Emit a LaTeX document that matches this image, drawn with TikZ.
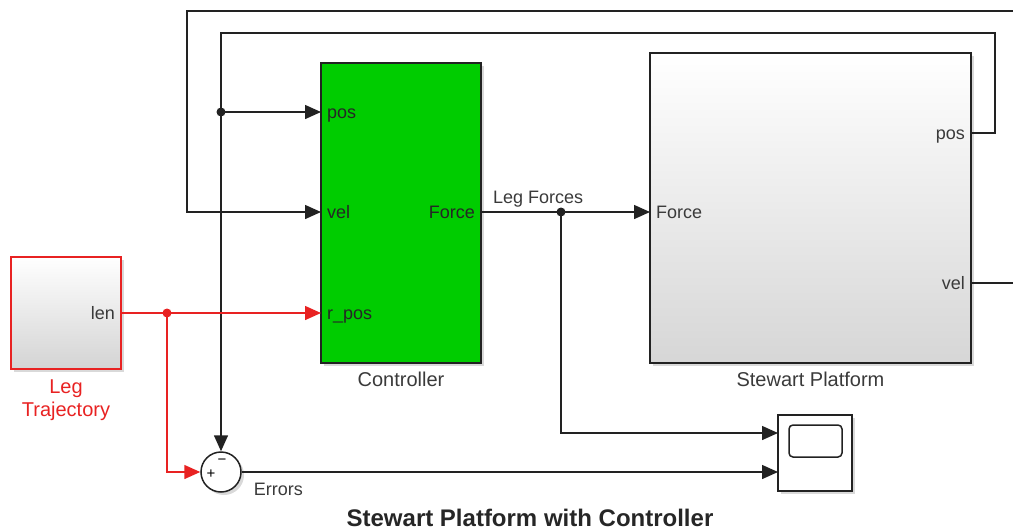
\documentclass[tikz,border=0pt]{standalone}
\usepackage{fontspec}
\setmainfont{Liberation Sans}
\usetikzlibrary{arrows.meta, positioning, shadows}
\definecolor{slgreen}{HTML}{00CC00}
\definecolor{slred}{HTML}{E82222}
\definecolor{slwire}{HTML}{222222}
\definecolor{sltext}{HTML}{3A3A3A}

\begin{document}
\begin{tikzpicture}[x=1pt, y=-1pt,
    block/.style={draw=slwire, line width=1.5pt, inner sep=0pt, drop shadow={shadow xshift=3pt, shadow yshift=-3pt, opacity=0.3}},
    wire/.style={line width=1.5pt, slwire},
    sig/.style={wire, -{Triangle[length=16pt, width=14pt]}},
    port/.style={font=\fontsize{18}{20}\selectfont, text=sltext, inner sep=0pt},
    blkname/.style={port, font=\fontsize{20}{23}\selectfont, anchor=base},
    sign/.style={font=\fontsize{15}{15}\selectfont, text=black, inner sep=0pt}]
    \useasboundingbox (0,0) rectangle (1013,531);
    \clip (0,0) rectangle (1013,531);

    % Blocks
    \node[block, draw=slred, top color=white, bottom color=black!17, minimum width=110pt, minimum height=112pt] (traj) at (66,313) {};
    \node[block, fill=slgreen, minimum width=160pt, minimum height=300pt] (ctrl) at (401,213) {};
    \node[block, top color=white, middle color=black!3, bottom color=black!16, minimum width=321pt, minimum height=310pt] (plant) at (810.5,208) {};
    \node[block, circle, fill=white, minimum size=40pt] (sum) at (221,472) {};
    \node[block, fill=white, minimum width=74pt, minimum height=76pt] (scope) at (815,453) {};
    \node[draw=slwire, line width=1.5pt, rounded corners=4pt, minimum width=53pt, minimum height=32pt] (screen) at (815.5,441) {};

    % Ports
    \coordinate (traj-len) at (121,313);
    \coordinate (ctrl-pos) at (321,112);
    \coordinate (ctrl-vel) at (321,212);
    \coordinate (ctrl-rpos) at (321,313);
    \coordinate (ctrl-force) at (481,212);
    \coordinate (plant-force) at (650,212);
    \coordinate (plant-pos) at (971,133);
    \coordinate (plant-vel) at (971,283);
    \coordinate (scope-in1) at (778,433);
    \coordinate (scope-in2) at (778,472);
    \coordinate (j-pos) at (221,112);
    \coordinate (j-len) at (167,313);
    \coordinate (j-force) at (561,212);

    \node[port, anchor=base east] (traj-len-lbl) at ([xshift=-6pt, yshift=-6pt]traj-len) {len};
    \node[port, text=black!85, anchor=base west] (ctrl-pos-lbl) at ([xshift=6pt, yshift=-6pt]ctrl-pos) {pos};
    \node[port, text=black!85, anchor=base west] (ctrl-vel-lbl) at ([xshift=6pt, yshift=-6pt]ctrl-vel) {vel};
    \node[port, text=black!85, anchor=base west] (ctrl-rpos-lbl) at ([xshift=6pt, yshift=-6pt]ctrl-rpos) {r\_pos};
    \node[port, text=black!85, anchor=base east] (ctrl-force-lbl) at ([xshift=-6pt, yshift=-6pt]ctrl-force) {Force};
    \node[port, anchor=base west] (plant-force-lbl) at ([xshift=6pt, yshift=-6pt]plant-force) {Force};
    \node[port, anchor=base east] (plant-pos-lbl) at ([xshift=-6pt, yshift=-6pt]plant-pos) {pos};
    \node[port, anchor=base east] (plant-vel-lbl) at ([xshift=-6pt, yshift=-6pt]plant-vel) {vel};
    \node[sign] (sum-plus) at (211,474) {+};
    \node[sign] (sum-minus) at (222,462) {−};

    % Feedback loops
    \draw[sig] (plant-vel) -- (1030,283) -- (1030,11) -| (187,212) -- (ctrl-vel);
    \draw[sig] (plant-pos) -| (995,33) -| (sum.north);
    \draw[sig] (j-pos) -- (ctrl-pos);
    \fill[slwire] (j-pos) circle (4.5);

    % Reference
    \draw[sig, slred] (traj-len) -- (ctrl-rpos);
    \draw[sig, slred] (j-len) |- (sum.west);
    \fill[slred] (j-len) circle (4.5);

    % Forces and errors
    \draw[sig] (ctrl-force) -- (plant-force);
    \draw[sig] (j-force) |- (scope-in1);
    \fill[slwire] (j-force) circle (4.5);
    \draw[sig] (sum.east) -- (scope-in2);
    \node[port, anchor=base west] (force-lbl) at ([xshift=12pt, yshift=9pt]ctrl-force) {Leg Forces};
    \node[port, anchor=base west] (err-lbl) at ([xshift=12pt, yshift=-23pt]sum.east) {Errors};

    % Block names
    \node[blkname] (ctrl-name) at ([yshift=-23pt]ctrl.south) {Controller};
    \node[blkname] (plant-name) at ([yshift=-23pt]plant.south) {Stewart Platform};
    \node[blkname, text=slred] (traj-name) at ([yshift=-24pt]traj.south) {Leg};
    \node[blkname, text=slred, below=0pt of traj-name.base, anchor=base, yshift=-23pt] (traj-name2) {Trajectory};
    \node[font=\bfseries\fontsize{24}{27}\selectfont, text=black!85, anchor=base] (title) at (530,526) {Stewart Platform with Controller};
\end{tikzpicture}
\end{document}
